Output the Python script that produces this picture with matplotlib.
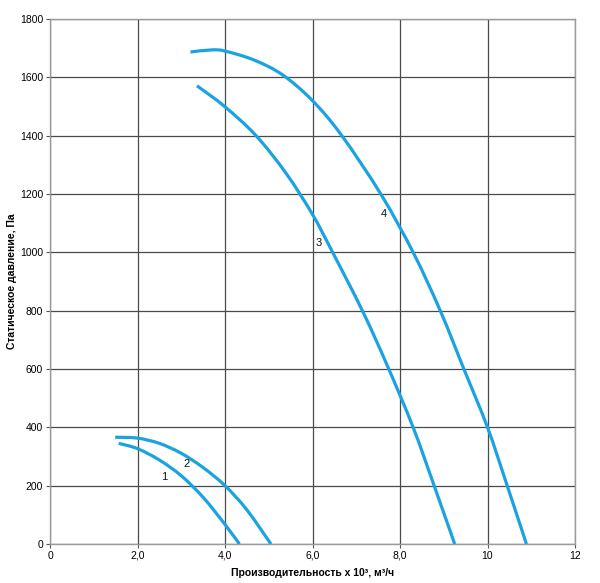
import matplotlib
matplotlib.use("Agg")
import matplotlib.pyplot as plt
from matplotlib.path import Path
from matplotlib.patches import PathPatch

plt.rcParams['font.family'] = ['Liberation Sans', 'DejaVu Sans']

# Curve data (flow x10^3 m3/h, static pressure Pa)
x1 = [1.57, 2.0, 2.5, 3.0, 3.5, 4.0, 4.33]
y1 = [345, 327, 288, 234, 160, 67, 0]

x2 = [1.49, 2.0, 2.5, 3.0, 3.5, 4.0, 4.5, 5.05]
y2 = [366, 363, 345, 311, 262, 200, 117, 0]

x3 = [3.36, 4.0, 4.71, 5.40, 6.0, 6.46, 7.14, 7.70, 8.30, 8.78, 9.25]
y3 = [1571, 1499, 1400, 1270, 1130, 1000, 800, 615, 400, 200, 0]

x4 = [3.21, 3.69, 4.0, 4.67, 5.32, 6.0, 6.67, 7.56, 8.30, 8.92, 9.46, 10.0, 10.45, 10.89]
y4 = [1687, 1694, 1690, 1659, 1608, 1520, 1400, 1200, 1000, 800, 600, 400, 200, 0]

labels = ["1", "2", "3", "4"]
label_pos = [(2.60, 229), (3.13, 273), (6.15, 1033), (7.64, 1131)]

xticks = [0, 2, 4, 6, 8, 10, 12]
xticklabels = ["0", "2,0", "4,0", "6,0", "8,0", "10", "12"]
yticks = [0, 200, 400, 600, 800, 1000, 1200, 1400, 1600, 1800]

color = "#1aa3e0"


def smooth_path(xs, ys):
    """Catmull-Rom style Bezier path passing through the read points."""
    pts = list(zip(xs, ys))
    n = len(pts)
    verts = [pts[0]]
    codes = [Path.MOVETO]
    for i in range(n - 1):
        p0 = pts[i - 1] if i > 0 else pts[i]
        p1 = pts[i]
        p2 = pts[i + 1]
        p3 = pts[i + 2] if i + 2 < n else pts[i + 1]
        c1 = (p1[0] + (p2[0] - p0[0]) / 6, p1[1] + (p2[1] - p0[1]) / 6)
        c2 = (p2[0] - (p3[0] - p1[0]) / 6, p2[1] - (p3[1] - p1[1]) / 6)
        verts += [c1, c2, p2]
        codes += [Path.CURVE4] * 3
    return Path(verts, codes)


fig = plt.figure(figsize=(6.0, 5.83), dpi=100)
ax = fig.add_axes([50/600, 39/583, 525/600, 525/583])

for xs, ys in [(x1, y1), (x2, y2), (x3, y3), (x4, y4)]:
    ax.add_patch(PathPatch(smooth_path(xs, ys), facecolor='none', edgecolor=color,
                           lw=2.3, capstyle='butt', zorder=3))

for t, (lx, ly) in zip(labels, label_pos):
    ax.text(lx, ly, t, fontsize=8, ha='center', va='center', color='#111111', zorder=4)

ax.set_xlim(0, 12)
ax.set_ylim(0, 1800)
ax.set_xticks(xticks)
ax.set_xticklabels(xticklabels)
ax.set_yticks(yticks)
ax.grid(True, color='#4a4a4a', lw=0.9, zorder=1)
for s in ax.spines.values():
    s.set_color('#9a9a9a')
    s.set_linewidth(1.0)
ax.tick_params(axis='both', labelsize=7.5, length=3, width=0.8, color='#555555', pad=2)

ax.set_xlabel("Производительность x 10³, м³/ч", fontsize=7.5, fontweight='bold')
ax.set_ylabel("Статическое давление, Па", fontsize=7.5, fontweight='bold')
ax.yaxis.set_label_coords(-0.063, 0.5)
ax.xaxis.set_label_coords(0.5, -0.046)

fig.savefig("out.png", dpi=100)
